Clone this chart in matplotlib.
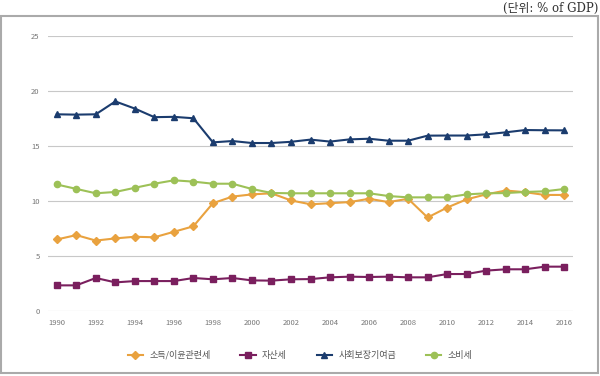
import matplotlib
matplotlib.use("Agg")
import matplotlib.pyplot as plt
from matplotlib.patches import Rectangle

plt.rcParams['font.family'] = ['Noto Sans CJK KR', 'DejaVu Sans']

years = list(range(1990, 2017))

income = [6.5, 6.9, 6.4, 6.6, 6.75, 6.7, 7.2, 7.7, 9.8, 10.4, 10.6, 10.7, 10.05,
          9.7, 9.8, 9.9, 10.2, 9.9, 10.2, 8.5, 9.4, 10.15, 10.6, 10.95, 10.8, 10.55, 10.55]
property_tax = [2.33, 2.33, 3.0, 2.6, 2.72, 2.72, 2.72, 3.0, 2.88, 3.0, 2.78, 2.76, 2.88,
                2.9, 3.06, 3.12, 3.09, 3.12, 3.06, 3.06, 3.36, 3.36, 3.67, 3.79, 3.79, 4.03, 4.03]
social = [17.88, 17.85, 17.88, 19.05, 18.4, 17.62, 17.65, 17.52, 15.33, 15.45, 15.27, 15.27, 15.38,
          15.58, 15.4, 15.6, 15.66, 15.48, 15.48, 15.94, 15.95, 15.95, 16.06, 16.24, 16.45, 16.43, 16.42]
consumption = [11.5, 11.1, 10.7, 10.82, 11.2, 11.57, 11.88, 11.76, 11.57, 11.57, 11.09, 10.73, 10.7,
               10.7, 10.7, 10.7, 10.7, 10.45, 10.33, 10.33, 10.33, 10.6, 10.7, 10.72, 10.82, 10.88, 11.09]

labels = ['소득/이윤관련세', '자산세', '사회보장기여금', '소비세']
colors = ['#E9A23F', '#7A1F5E', '#1B3C6E', '#9DC157']
markers = ['D', 's', '^', 'o']
sizes = [4.3, 4.3, 4.8, 4.5]

fig = plt.figure(figsize=(6, 3.76), dpi=100)
ax = fig.add_axes([0.08, 0.1729, 0.875, 0.7314])

series = [income, property_tax, social, consumption]
for vals, lab, c, m, s in zip(series, labels, colors, markers, sizes):
    ax.plot(years, vals, color=c, marker=m, markersize=s, lw=1.5, label=lab,
            markeredgecolor=c, clip_on=False)

ax.set_xlim(1989.55, 2016.45)
ax.set_ylim(0, 25)
ax.set_yticks(range(0, 26, 5))
ax.set_xticks(range(1990, 2017, 2))
ax.grid(axis='y', color='#C8C8C8', lw=0.8)
ax.set_axisbelow(True)
for sp in ax.spines.values():
    sp.set_visible(False)
ax.tick_params(length=0, labelsize=5.5, labelcolor='#777777', pad=6)

fig.legend(loc='center', bbox_to_anchor=(0.5, 0.056), ncol=4, frameon=False,
           fontsize=6.5, handlelength=1.7, handletextpad=0.7, columnspacing=3.3,
           labelcolor='#555555')

fig.patches.append(Rectangle((1 / 600, 3 / 376), 597 / 600, 357 / 376, transform=fig.transFigure,
                             fill=False, edgecolor='#AAAAAA', lw=1.5))
fig.text(0.997, 1 - 15 / 376, '(단위: % of GDP)', ha='right', va='bottom', fontsize=8.5,
         color='#333333', family=['DejaVu Serif', 'Noto Sans CJK KR'])

fig.savefig('out.png', dpi=100)
